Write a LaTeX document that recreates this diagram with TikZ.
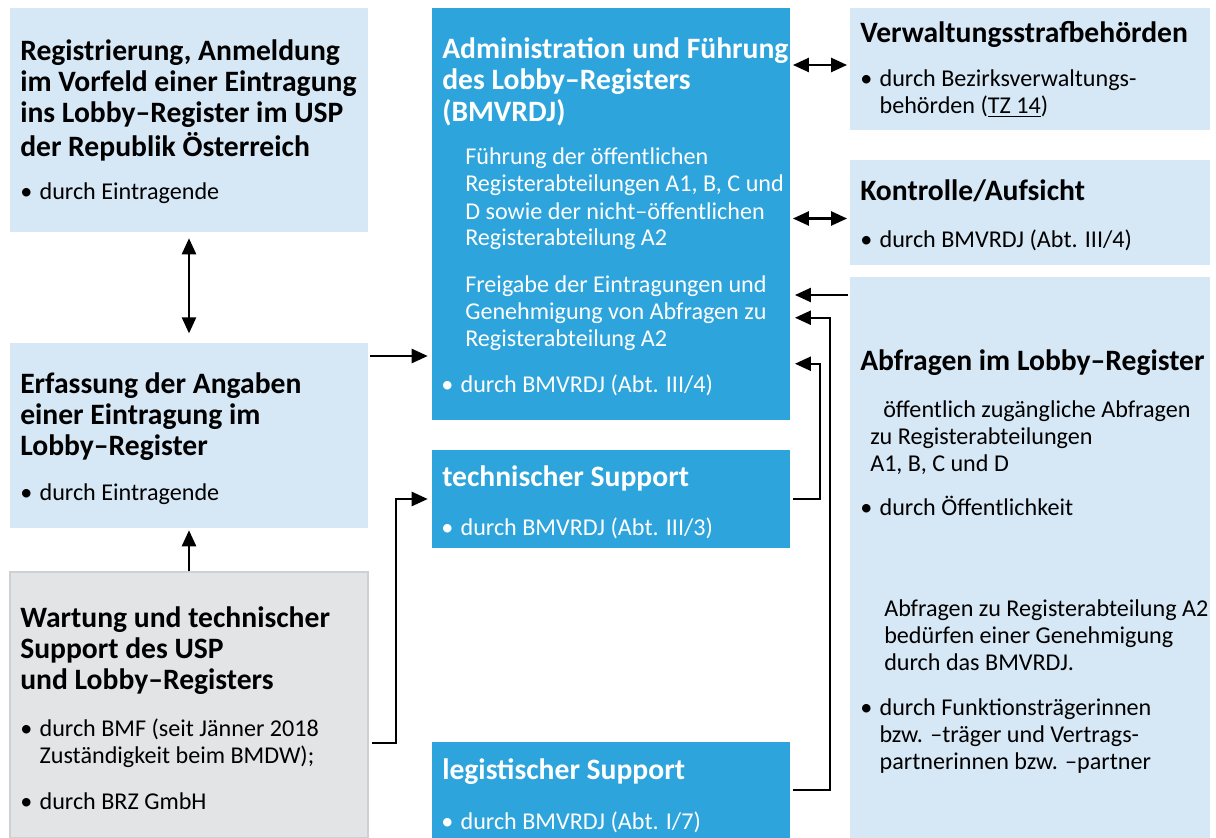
\documentclass[tikz,border=0pt]{standalone}
\usepackage{fontspec}
\setmainfont{Carlito}
\usepackage{xcolor}
\usetikzlibrary{arrows.meta,positioning,calc,fit}
\definecolor{lblue}{HTML}{D6E7F5}
\definecolor{dblue}{HTML}{2EA4DC}
\definecolor{lgray}{HTML}{E2E4E6}
\definecolor{bgray}{HTML}{CDD1D5}
\newcommand{\lns}[1]{\begin{tabular}[t]{@{}l@{}}#1\end{tabular}}
\newcommand{\bul}[1]{\makebox[14.5pt][l]{\textbullet}\lns{#1}}

\begin{document}
\begin{tikzpicture}
[x=0.75pt,y=-0.75pt,
 bx/.style={fill=lblue,inner sep=0pt},
 gx/.style={fill=lgray,draw=bgray,line width=1.2pt,inner sep=0pt},
 ax/.style={fill=dblue,inner sep=0pt},
 hd/.style={anchor=base west,inner sep=0pt,font=\fontsize{22.2}{23.25}\selectfont\bfseries},
 tx/.style={anchor=base west,inner sep=0pt,font=\fontsize{18.1}{20.25}\selectfont},
 arr/.style={-{Triangle[length=12pt,width=10.5pt]},line width=1.8pt},
 dbl/.style={{Triangle[length=12pt,width=10.5pt]}-{Triangle[length=12pt,width=10.5pt]},line width=1.8pt}]
\useasboundingbox (0,0) rectangle (1216,838);
% boxes
\node[bx,fit={(10,8) (368,232)}] (reg) {};
\node[bx,fit={(10,343) (368,528)}] (erf) {};
\node[gx,fit={(10,572) (368,838)}] (wart) {};
\node[ax,fit={(432,8) (790,420)}] (adm) {};
\node[ax,fit={(432,450) (790,548)}] (tech) {};
\node[ax,fit={(432,742) (790,838)}] (legis) {};
\node[bx,fit={(850,8) (1210,130)}] (verw) {};
\node[bx,fit={(850,160) (1210,265)}] (kontr) {};
\node[bx,fit={(850,277) (1210,838)}] (abf) {};
% left column
\node[hd] (reghd) at (20,61) {\lns{Registrierung, Anmeldung\\im Vorfeld einer Eintragung\\ins Lobby–Register im USP\\der Republik Österreich}};
\node[tx] (regb) at (20,199) {\bul{durch Eintragende}};
\node[hd] (erfhd) at (20,393) {\lns{Erfassung der Angaben\\einer Eintragung im\\Lobby–Register}};
\node[tx] (erfb) at (20,500) {\bul{durch Eintragende}};
\node[hd] (warthd) at (20,627) {\lns{Wartung und technischer\\Support des USP\\und Lobby–Registers}};
\node[tx] (wartb1) at (20,736) {\bul{durch BMF (seit Jänner 2018\\Zuständigkeit beim BMDW);}};
\node[tx] (wartb2) at (20,809) {\bul{durch BRZ GmbH}};
% middle column
\node[hd,text=white] (admhd) at (442,59) {\lns{Administration und Führung\\des Lobby–Registers\\(BMVRDJ)}};
\node[tx,text=white] (admp1) at (465,165) {\lns{Führung der öffentlichen\\Registerabteilungen A1, B, C und\\D sowie der nicht–öffentlichen\\Registerabteilung A2}};
\node[tx,text=white] (admp2) at (465,292) {\lns{Freigabe der Eintragungen und\\Genehmigung von Abfragen zu\\Registerabteilung A2}};
\node[tx,text=white] (admb) at (441,392) {\bul{durch BMVRDJ (Abt. III/4)}};
\node[hd,text=white] (techhd) at (442,486) {technischer Support};
\node[tx,text=white] (techb) at (441,535) {\bul{durch BMVRDJ (Abt. III/3)}};
\node[hd,text=white] (legishd) at (442,779) {legistischer Support};
\node[tx,text=white] (legisb) at (441,829) {\bul{durch BMVRDJ (Abt. I/7)}};
% right column
\node[hd] (verwhd) at (860,43) {Verwaltungsstrafbehörden};
\node[tx] (verwb) at (860,87) {\bul{durch Bezirksverwaltungs-\\behörden (\underline{TZ 14})}};
\node[hd] (kontrhd) at (860,200) {Kontrolle/Aufsicht};
\node[tx] (kontrb) at (860,247) {\bul{durch BMVRDJ (Abt. III/4)}};
\node[hd] (abfhd) at (860,370) {Abfragen im Lobby–Register};
\node[tx] (abfp1) at (870,417) {\lns{\hspace*{9.75pt}öffentlich zugängliche Abfragen\\zu Registerabteilungen\\A1, B, C und D}};
\node[tx] (abfb1) at (860,515) {\bul{durch Öffentlichkeit}};
\node[tx] (abfp2) at (884,616) {\lns{Abfragen zu Registerabteilung A2\\bedürfen einer Genehmigung\\durch das BMVRDJ.}};
\node[tx] (abfb2) at (860,715) {\bul{durch Funktionsträgerinnen\\bzw. –träger und Vertrags-\\partnerinnen bzw. –partner}};
% connectors
\coordinate (erfout) at (370,356);
\coordinate (wartout) at (372,743);
\coordinate (abfout) at (848,295);
\draw[dbl,shorten <=4.5pt,shorten >=7pt] (reg.south) -- (erf.north);
\draw[arr,shorten >=1.5pt] (wart.north) -- (erf.south);
\draw[arr,shorten >=3pt] (erfout) -- (erfout -| adm.west);
\draw[arr,shorten >=3pt] (wartout) -- ++(24,0) |- (tech.west);
\draw[dbl,shorten <=2pt,shorten >=2pt] ([yshift=3pt]verw.west) -- ([yshift=3pt]verw.west -| adm.east);
\draw[dbl,shorten <=2pt,shorten >=2pt] ([yshift=-4.5pt]kontr.west) -- ([yshift=-4.5pt]kontr.west -| adm.east);
\draw[arr,shorten >=3.5pt] (abfout) -- (abfout -| adm.east);
\draw[arr,shorten <=2pt,shorten >=3.5pt] (tech.east) -- ++(30,0) |- ($(adm.north east)+(0,356)$);
\draw[arr,shorten <=2pt,shorten >=3.5pt] (legis.east) -- ++(40,0) |- ($(adm.north east)+(0,310)$);
\end{tikzpicture}
\end{document}
